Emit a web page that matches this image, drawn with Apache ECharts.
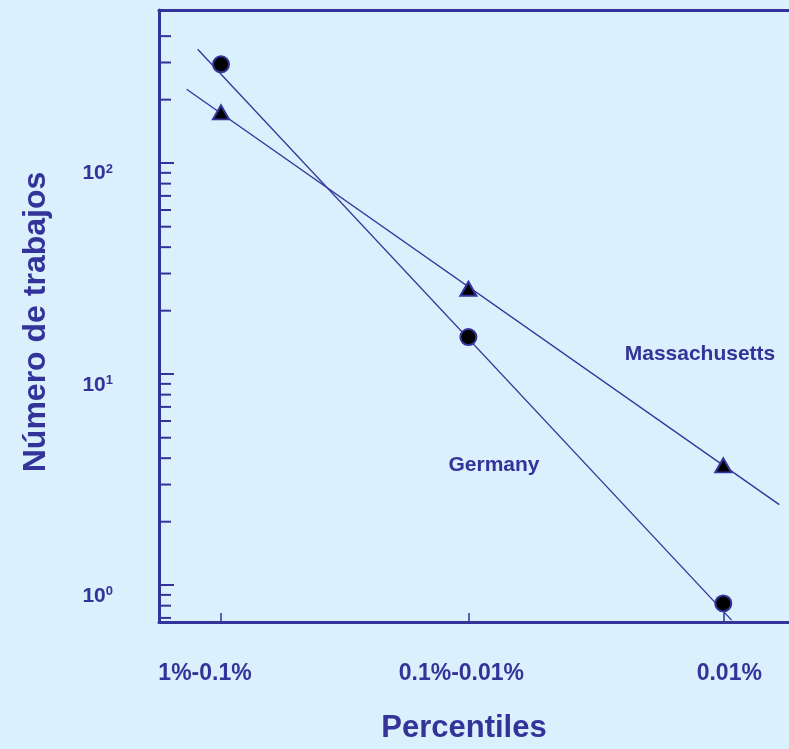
<!DOCTYPE html>
<html><head><meta charset="utf-8">
<script src="https://cdn.jsdelivr.net/npm/echarts@6/dist/echarts.min.js"></script>
<style>html,body{margin:0;padding:0;background:#daf0fd}#c{width:789px;height:749px}</style>
</head><body><div id="c"></div>
<script>
// ---- data ----
const categories = ['1%-0.1%', '0.1%-0.01%', '0.01%'];
const categoryPos = [0, 0.985, 2];
const germany = [294, 15, 0.82];
const massachusetts = [174, 25.4, 3.7];
// fitted (power-law) lines, endpoints as drawn: [x, y]
const germanyFit = [[-0.093, 346.6], [2.033, 0.683]];
const massachusettsFit = [[-0.137, 224], [2.223, 2.41]];
const yMinorTicks = [0.7, 0.8, 0.9, 2, 3, 4, 5, 6, 7, 8, 9, 20, 30, 40, 50, 60, 70, 80, 90, 200, 300, 400];
const seriesNames = ['Germany', 'Massachusetts'];
const xTitle = 'Percentiles';
const yTitle = 'Número de trabajos';

// ---- chart ----
const C = '#333399';
const FONT = 'Liberation Sans, Arial, Helvetica, sans-serif';
const X_MIN = -0.2469, X_MAX = 2.2616;
const catIndex = v => categoryPos.findIndex(p => Math.abs(p - v) < 1e-6);
const chart = echarts.init(document.getElementById('c'), null, {renderer: 'canvas'});
chart.setOption({
  animation: false,
  backgroundColor: '#daf0fd',
  grid: {left: 159, top: 10, bottom: 126.5, right: 0, show: false},
  xAxis: [{
    type: 'value', min: X_MIN, max: X_MAX,
    axisLine: {show: true, onZero: false, lineStyle: {color: C, width: 3}},
    axisTick: {show: true, inside: true, length: 9, customValues: categoryPos, lineStyle: {color: C, width: 1.5}},
    axisLabel: {
      customValues: categoryPos, margin: 40,
      formatter: v => { const i = catIndex(v); return '{l' + i + '|' + categories[i] + '}'; },
      rich: {
        l0: {color: C, fontSize: 23, fontWeight: 'bold', fontFamily: FONT, padding: [0, 32, 0, 0]},
        l1: {color: C, fontSize: 23, fontWeight: 'bold', fontFamily: FONT, padding: [0, 14, 0, 0]},
        l2: {color: C, fontSize: 23, fontWeight: 'bold', fontFamily: FONT, padding: [0, 0, 0, 12]}
      }
    },
    splitLine: {show: false},
    name: xTitle, nameLocation: 'middle', nameGap: 91,
    nameTextStyle: {color: C, fontSize: 31, fontWeight: 'bold', fontFamily: FONT, padding: [0, 20, 0, 0]}
  }, {
    type: 'value', position: 'top', min: X_MIN, max: X_MAX,
    axisLine: {show: true, onZero: false, lineStyle: {color: C, width: 3}},
    axisTick: {show: false}, axisLabel: {show: false}, splitLine: {show: false}
  }],
  yAxis: {
    type: 'log', logBase: 10, min: 0.6695, max: 532,
    axisLine: {show: true, onZero: false, lineStyle: {color: C, width: 3}},
    axisTick: {show: true, inside: true, length: 15, lineStyle: {color: C, width: 2}},
    axisLabel: {
      margin: 46, showMinLabel: false, showMaxLabel: false, verticalAlign: 'top',
      formatter: v => '{n|10}{s|' + Math.round(Math.log10(v)) + '}',
      rich: {
        n: {color: C, fontSize: 21, fontWeight: 'bold', fontFamily: FONT, lineHeight: 21, verticalAlign: 'top'},
        s: {color: C, fontSize: 13, fontWeight: 'bold', fontFamily: FONT, lineHeight: 13, verticalAlign: 'top'}
      }
    },
    splitLine: {show: false},
    name: yTitle, nameLocation: 'middle', nameGap: 107, nameRotate: 90,
    nameTextStyle: {color: C, fontSize: 32, fontWeight: 'bold', fontFamily: FONT, padding: [0, 12, 0, 0]}
  },
  graphic: [
    {type: 'text', x: 494, y: 465, z: 100, style: {text: seriesNames[0], font: 'bold 21px ' + FONT, fill: C, align: 'center', verticalAlign: 'middle', textAlign: 'center', textVerticalAlign: 'middle'}},
    {type: 'text', x: 700, y: 354, z: 100, style: {text: seriesNames[1], font: 'bold 21px ' + FONT, fill: C, align: 'center', verticalAlign: 'middle', textAlign: 'center', textVerticalAlign: 'middle'}}
  ],
  series: [
    {type: 'custom', name: 'minorTicks', silent: true, clip: false, z: 3,
     data: yMinorTicks.map(v => [X_MIN, v]),
     renderItem: (params, api) => {
       const p = api.coord([api.value(0), api.value(1)]);
       return {type: 'line', shape: {x1: p[0], y1: p[1], x2: p[0] + 12, y2: p[1]}, style: {stroke: C, lineWidth: 2}};
     }},
    {type: 'line', name: seriesNames[0] + ' fit', data: germanyFit, symbol: 'none', silent: true, z: 2,
     lineStyle: {color: C, width: 1.3}},
    {type: 'line', name: seriesNames[1] + ' fit', data: massachusettsFit, symbol: 'none', silent: true, z: 2,
     lineStyle: {color: C, width: 1.3}},
    {type: 'scatter', name: seriesNames[0], data: germany.map((v, i) => [categoryPos[i], v]), z: 4,
     symbol: 'circle', symbolSize: 16, itemStyle: {color: '#000', borderColor: C, borderWidth: 2, opacity: 1}},
    {type: 'scatter', name: seriesNames[1], data: massachusetts.map((v, i) => [categoryPos[i], v]), z: 4,
     symbol: 'triangle', symbolSize: [16, 14], itemStyle: {color: '#000', borderColor: C, borderWidth: 2, opacity: 1}}
  ]
});
</script></body></html>
